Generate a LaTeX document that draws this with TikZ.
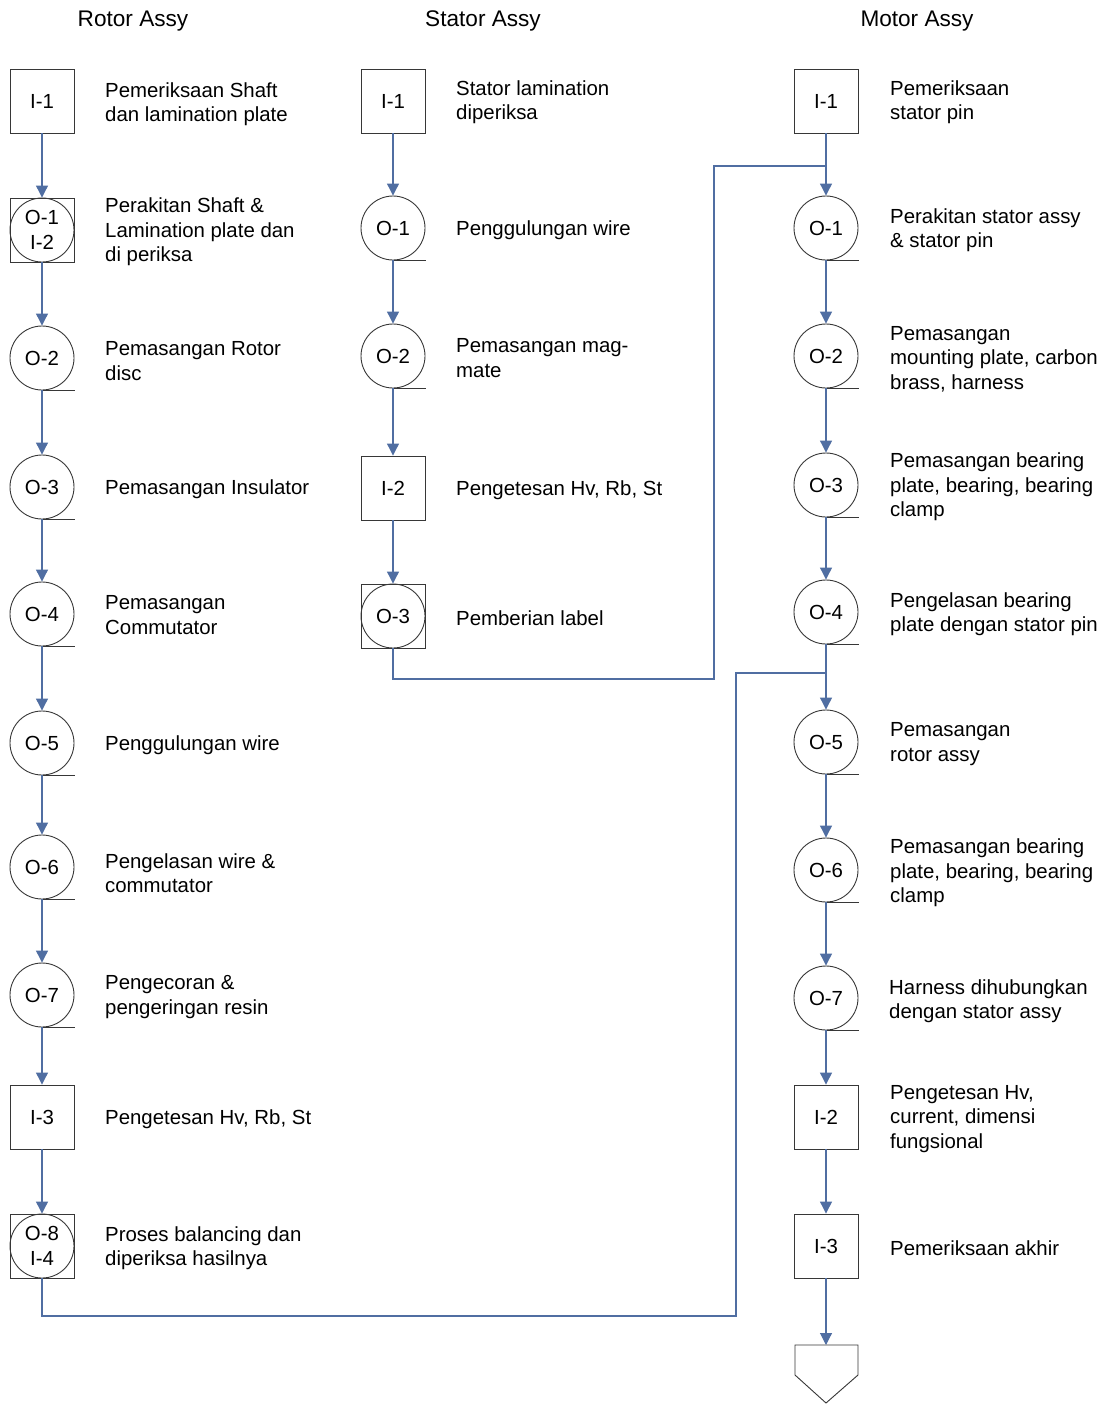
\documentclass[tikz,border=0pt]{standalone}
\usepackage{fontspec}
\setmainfont{Liberation Sans}
\usetikzlibrary{arrows.meta}
\definecolor{flowblue}{RGB}{80,110,162}
\definecolor{symgray}{RGB}{55,55,55}
\begin{document}
\begin{tikzpicture}[x=1pt,y=-1pt,
  every node/.style={font=\fontsize{20.4}{24.5}\selectfont},
  inspect/.style={draw=symgray,line width=0.9pt,minimum size=64pt,inner sep=0pt},
  oper/.style={draw=symgray,circle,line width=0.9pt,minimum size=64pt,inner sep=0pt,align=center},
  tail/.style={draw=symgray,line width=0.9pt},
  lbl/.style={anchor=west,align=left,inner sep=0pt,yshift=-2pt},
  title/.style={inner sep=0pt,font=\fontsize{22.6}{27}\selectfont},
  flow/.style={draw=flowblue,line width=1.1pt,-{Triangle[width=12pt,length=12pt]}},
  link/.style={draw=flowblue,line width=1.1pt}]
\useasboundingbox (0,0) rectangle (1107,1405);
% titles
\node[title] (trotor) at (133,21) {Rotor Assy};
\node[title] (tstator) at (483,21) {Stator Assy};
\node[title] (tmotor) at (917,21) {Motor Assy};
% rotor assy
\node[inspect] (r1) at (42,101) {I-1};
\node[inspect] (r2) at (42,230) {};
\node[oper] (r2c) at (r2) {O-1\\I-2};
\node[oper] (r3) at (42,358) {O-2};
\node[oper] (r4) at (42,487) {O-3};
\node[oper] (r5) at (42,614) {O-4};
\node[oper] (r6) at (42,743) {O-5};
\node[oper] (r7) at (42,867) {O-6};
\node[oper] (r8) at (42,995) {O-7};
\node[inspect] (r9) at (42,1117) {I-3};
\node[inspect] (r10) at (42,1246) {};
\node[oper] (r10c) at (r10) {O-8\\I-4};
\node[lbl] (r1t) at (105,102) {Pemeriksaan Shaft\\dan lamination plate};
\node[lbl] (r2t) at (105,230) {Perakitan Shaft \&\\Lamination plate dan\\di periksa};
\node[lbl] (r3t) at (105,359) {Pemasangan Rotor\\disc};
\node[lbl] (r4t) at (105,487) {Pemasangan Insulator};
\node[lbl] (r5t) at (105,613) {Pemasangan\\Commutator};
\node[lbl] (r6t) at (105,743) {Penggulungan wire};
\node[lbl] (r7t) at (105,871) {Pengelasan wire \&\\commutator};
\node[lbl] (r8t) at (105,995) {Pengecoran \&\\pengeringan resin};
\node[lbl] (r9t) at (105,1117) {Pengetesan Hv, Rb, St};
\node[lbl] (r10t) at (105,1246) {Proses balancing dan\\diperiksa hasilnya};
% stator assy
\node[inspect] (s1) at (393,101) {I-1};
\node[oper] (s2) at (393,228) {O-1};
\node[oper] (s3) at (393,356) {O-2};
\node[inspect] (s4) at (393,488) {I-2};
\node[inspect] (s5) at (393,616) {};
\node[oper] (s5c) at (s5) {O-3};
\node[lbl] (s1t) at (456,100) {Stator lamination\\diperiksa};
\node[lbl] (s2t) at (456,228) {Penggulungan wire};
\node[lbl] (s3t) at (456,356) {Pemasangan mag-\\mate};
\node[lbl] (s4t) at (456,488) {Pengetesan Hv, Rb, St};
\node[lbl] (s5t) at (456,616) {Pemberian label};
% motor assy
\node[inspect] (m1) at (826,101) {I-1};
\node[oper] (m2) at (826,228) {O-1};
\node[oper] (m3) at (826,356) {O-2};
\node[oper] (m4) at (826,485) {O-3};
\node[oper] (m5) at (826,612) {O-4};
\node[oper] (m6) at (826,742) {O-5};
\node[oper] (m7) at (826,870) {O-6};
\node[oper] (m8) at (826,998) {O-7};
\node[inspect] (m9) at (826,1117) {I-2};
\node[inspect] (m10) at (826,1246) {I-3};
\coordinate (mend) at (826,1345);
\node[lbl] (m1t) at (890,100) {Pemeriksaan\\stator pin};
\node[lbl] (m2t) at (890,228) {Perakitan stator assy\\\& stator pin};
\node[lbl] (m3t) at (890,357) {Pemasangan\\mounting plate, carbon\\brass, harness};
\node[lbl] (m4t) at (890,485) {Pemasangan bearing\\plate, bearing, bearing\\clamp};
\node[lbl] (m5t) at (890,612) {Pengelasan bearing\\plate dengan stator pin};
\node[lbl] (m6t) at (890,742) {Pemasangan\\rotor assy};
\node[lbl] (m7t) at (890,871) {Pemasangan bearing\\plate, bearing, bearing\\clamp};
\node[lbl] (m8t) at (889,999) {Harness dihubungkan\\dengan stator assy};
\node[lbl] (m9t) at (890,1117) {Pengetesan Hv,\\current, dimensi\\fungsional};
\node[lbl] (m10t) at (890,1246) {Pemeriksaan akhir};
% tails of the operation circles
\foreach \n in {r3,r4,r5,r6,r7,r8,s2,s3,m2,m3,m4,m5,m6,m7,m8}
  \draw[tail] (\n.south) -- ++(33pt,0pt);
% end symbol
\draw[symgray,line width=0.9pt] (795,1345) -- (858,1345) -- (858,1375) -- (826,1403) -- (795,1375) -- cycle;
% flow lines
\foreach \a/\b in {r1/r2,r2/r3,r3/r4,r4/r5,r5/r6,r6/r7,r7/r8,r8/r9,r9/r10,
  s1/s2,s2/s3,s3/s4,s4/s5,
  m1/m2,m2/m3,m3/m4,m4/m5,m5/m6,m6/m7,m7/m8,m8/m9,m9/m10,m10/mend}
  \draw[flow] (\a) -- (\b);
\coordinate (sjoin) at (826,166);
\coordinate (rjoin) at (826,673);
\draw[link] (s5.south) |- (714,679) |- (sjoin);
\draw[link] (r10.south) |- (736,1316) |- (rjoin);
\end{tikzpicture}
\end{document}
